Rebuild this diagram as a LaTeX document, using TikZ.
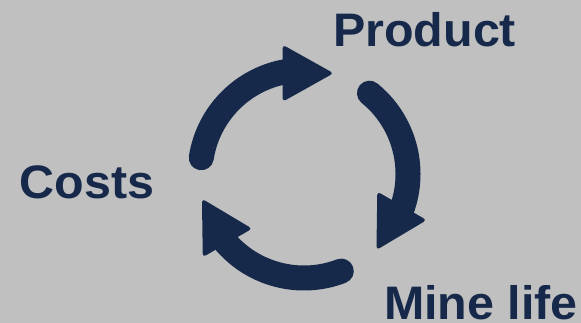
\documentclass[tikz,border=0pt]{standalone}
\usepackage{fontspec}
\setmainfont{Liberation Sans}[FakeStretch=1.03]
\definecolor{navy}{RGB}{22,41,74}
\definecolor{panel}{RGB}{192,192,192}
\begin{document}
\begin{tikzpicture}[x=1pt,y=1pt,
  cyclearc/.style={draw=navy,line width=25pt,line cap=round},
  cyclehead/.style={fill=navy,rounded corners=3.5pt},
  cyclelabel/.style={text=navy,font=\fontsize{47}{50}\selectfont\bfseries,
    inner sep=0pt,anchor=base west}]
  % background panel and page size
  \fill[panel] (0,0) rectangle (581,323);
  \useasboundingbox (0,0) rectangle (581,323);
  % three curved arrows around a common centre, 120 degrees apart
  \foreach \k in {0,1,2}{
    \begin{scope}[shift={(304,149)},rotate=-120*\k]
      \draw[cyclearc] (171:104) arc[start angle=171,end angle=100,radius=104];
      \fill[cyclehead] (-21.41,129.25) -- (29.59,100.75) -- (-21.41,72.25) -- cycle;
    \end{scope}
  }
  % labels
  \node[cyclelabel] (product) at (333,276.3) {Product};
  \node[cyclelabel] (costs) at (19.5,124.5) {Costs};
  \node[cyclelabel] (minelife) at (384,3.5) {Mine life};
\end{tikzpicture}
\end{document}
